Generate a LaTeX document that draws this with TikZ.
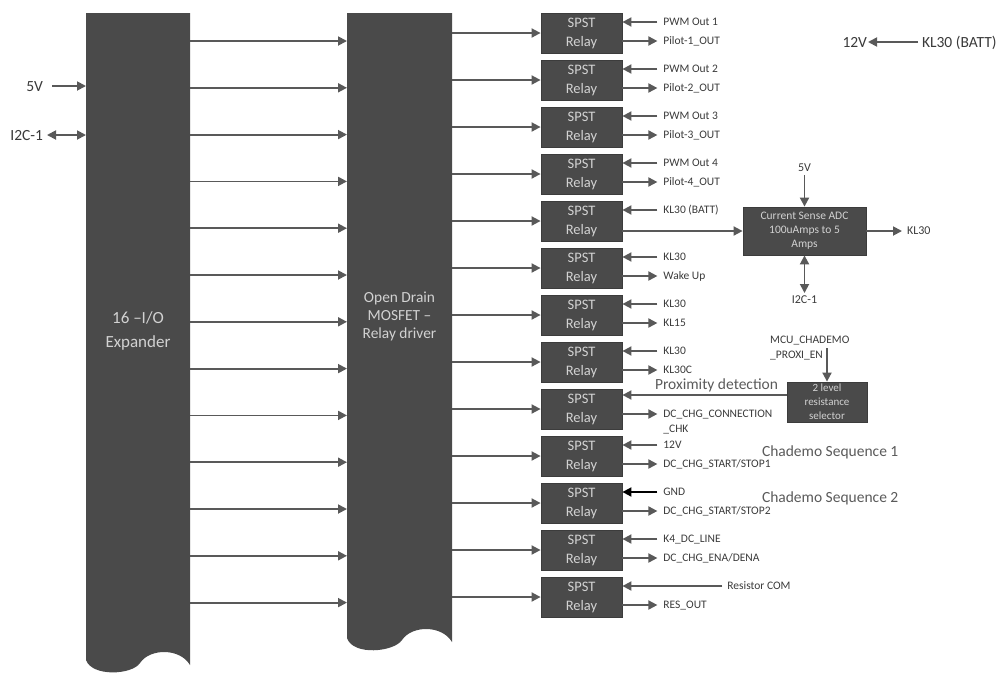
\documentclass[tikz,border=0pt]{standalone}
\usepackage{fontspec}
\setmainfont{Carlito}
\usetikzlibrary{arrows.meta}
\definecolor{boxfill}{HTML}{4A4A4A}
\definecolor{boxedge}{HTML}{3C3C3C}
\definecolor{boxtext}{HTML}{D2D2D2}
\definecolor{lblc}{HTML}{3A3A3A}
\definecolor{wirec}{HTML}{595959}
\definecolor{proxc}{HTML}{5A5A5A}
\newcommand{\rio}[3]{%
  \node[lbl, anchor=west, outer xsep=6pt] (in#1) at ([xshift=35pt,yshift=11pt]r#1.east) {#2};
  \node[lbl, anchor=west, outer xsep=6pt] (out#1) at ([xshift=35pt,yshift=-8pt]r#1.east) {#3};
  \draw[arr] (in#1.west) -- (in#1.west -| r#1.east);
  \draw[arr] (r#1.east |- out#1.west) -- (out#1.west);
}
\begin{document}
\begin{tikzpicture}[x=1pt,y=-1pt,
  wire/.style={draw=wirec, line width=1.8pt},
  arr/.style={wire, -{Triangle[length=9pt,width=9pt]}},
  darr/.style={wire, {Triangle[length=9pt,width=9pt]}-{Triangle[length=9pt,width=9pt]}},
  box/.style={fill=boxfill, draw=boxedge, line width=0.8pt, inner sep=0pt, text=boxtext, align=center},
  relaybox/.style={box, minimum width=81pt, minimum height=40pt, font=\fontsize{14.5}{19}\selectfont},
  lbl/.style={text=lblc, inner sep=0pt, outer sep=0pt, text height=7.4pt, text depth=0pt, font=\fontsize{11.5}{13}\selectfont},
  mlbl/.style={lbl, text height=7.7pt, font=\fontsize{12}{14}\selectfont},
  biglbl/.style={lbl, text height=10pt, font=\fontsize{15.5}{18}\selectfont},
  colnode/.style={inner sep=0pt, outer sep=0pt, minimum width=104pt, minimum height=630pt, anchor=north west},
]
\useasboundingbox (0,0) rectangle (1000,675);

% columns
\node[colnode] (exp) at (86,13) {};
\node[colnode, minimum width=105pt, minimum height=617pt] (mos) at (347,13) {};
\fill[boxfill] (86,13) -- (190,13) -- (190,665)
  .. controls (180,648) and (150,648) .. (140,663)
  .. controls (132,675) and (92,677) .. (86,660) -- cycle;
\fill[boxfill] (347,13) -- (452,13) -- (452,642)
  .. controls (442,625) and (412,625) .. (402,640)
  .. controls (394,652) and (353,656) .. (347,638) -- cycle;
\node[text=boxtext, align=center, inner sep=0pt, font=\fontsize{17}{24}\selectfont] (exptxt) at (138,331) {16 –I/O\\Expander};
\node[text=boxtext, align=center, inner sep=0pt, font=\fontsize{15.4}{18}\selectfont] (mostxt) at (399.5,316) {Open Drain\\MOSFET –\\Relay driver};

% relays
\foreach \i in {1,...,13} {
  \pgfmathsetmacro\yc{33+47*(\i-1)}
  \node[relaybox] (r\i) at (581.5,\yc) {SPST\\Relay};
}

% expander -> mosfet, mosfet -> relays
\foreach \i in {1,...,13} {
  \pgfmathsetmacro\ya{41+46.8*(\i-1)}
  \coordinate (ey\i) at (0,\ya);
  \draw[arr] (exp.east |- ey\i) -- (mos.west |- ey\i);
  \draw[arr] (mos.east |- r\i.west) -- (r\i.west);
}

% left inputs
\node[biglbl, anchor=east, outer xsep=9pt] (v5l) at (52,86) {5V};
\draw[arr] (v5l.east) -- (v5l.east -| exp.west);
\node[biglbl, anchor=east, outer xsep=4pt] (i2cl) at (47,135) {I2C-1};
\draw[darr] (i2cl.east) -- (i2cl.east -| exp.west);

% top right
\node[biglbl, anchor=east, outer xsep=1pt] (v12) at (868,42) {12V};
\node[biglbl, anchor=west, outer xsep=4pt] (kb) at (918,42) {KL30 (BATT)};
\draw[arr] (kb.west) -- (v12.east);

% regular relay I/O
\rio{1}{PWM Out 1}{Pilot-1\_OUT}
\rio{2}{PWM Out 2}{Pilot-2\_OUT}
\rio{3}{PWM Out 3}{Pilot-3\_OUT}
\rio{4}{PWM Out 4}{Pilot-4\_OUT}
\rio{6}{KL30}{Wake Up}
\rio{7}{KL30}{KL15}
\rio{8}{KL30}{KL30C}
\rio{10}{12V}{DC\_CHG\_START/STOP1}
\rio{12}{K4\_DC\_LINE}{DC\_CHG\_ENA/DENA}

% relay 5 and current sense ADC
\node[box, minimum width=123pt, minimum height=48pt, font=\fontsize{11.5}{14}\selectfont] (adc) at (804.5,231) {Current Sense ADC\\100uAmps to 5\\Amps};
\node[lbl, anchor=west, outer xsep=6pt] (in5) at ([xshift=35pt,yshift=11pt]r5.east) {KL30 (BATT)};
\draw[arr] (in5.west) -- (in5.west -| r5.east);
\draw[arr] (r5.east |- adc.west) -- (adc.west);
\node[mlbl, anchor=south, outer ysep=4pt] (adc5) at (804.5,175) {5V};
\draw[arr] (adc5.south) -- (adc.north);
\node[mlbl, anchor=north, outer ysep=3pt] (i2cb) at (804.5,293) {I2C-1};
\draw[darr] (adc.south) -- (i2cb.north);
\node[mlbl, anchor=west, outer xsep=5pt] (klo) at (902,231) {KL30};
\draw[arr] (adc.east) -- (klo.west);

% relay 9 and resistance selector
\node[box, minimum width=80pt, minimum height=40pt, font=\fontsize{11}{14}\selectfont] (sel) at (827,402) {2 level\\resistance\\selector};
\node[text=lblc, inner sep=0pt, align=left, anchor=north west, font=\fontsize{11.5}{15}\selectfont] (mcu) at (770,336) {MCU\_CHADEMO\\\_PROXI\_EN};
\coordinate (mcua) at (827,348);
\draw[arr] (mcua) -- (sel.north);
\node[biglbl, anchor=west, text=proxc] (prox) at (655,384) {Proximity detection};
\draw[arr] ([yshift=7pt]sel.west) -- ([yshift=7pt]sel.west -| r9.east);
\node[lbl, anchor=west, outer xsep=6pt] (out9) at ([xshift=35pt,yshift=-5pt]r9.east) {DC\_CHG\_CONNECTION};
\node[lbl, anchor=west, outer xsep=6pt] (chk9) at ([yshift=-15pt]out9.west) {\_CHK};
\draw[arr] (r9.east |- out9.west) -- (out9.west);

% relay 11 (GND)
\node[lbl, anchor=west, outer xsep=6pt] (in11) at ([xshift=35pt,yshift=11pt]r11.east) {GND};
\node[lbl, anchor=west, outer xsep=6pt] (out11) at ([xshift=35pt,yshift=-8pt]r11.east) {DC\_CHG\_START/STOP2};
\draw[arr, draw=black] (in11.west) -- (in11.west -| r11.east);
\draw[arr] (r11.east |- out11.west) -- (out11.west);

% relay 13
\node[lbl, anchor=west, outer xsep=5pt] (in13) at ([xshift=100pt,yshift=11pt]r13.east) {Resistor COM};
\node[lbl, anchor=west, outer xsep=6pt] (out13) at ([xshift=35pt,yshift=-8pt]r13.east) {RES\_OUT};
\draw[arr] (in13.west) -- (in13.west -| r13.east);
\draw[arr] (r13.east |- out13.west) -- (out13.west);

% chademo labels
\node[biglbl, anchor=west, text=proxc] (cs1) at (762,451) {Chademo Sequence 1};
\node[biglbl, anchor=west, text=proxc] (cs2) at (762,497) {Chademo Sequence 2};
\end{tikzpicture}
\end{document}
